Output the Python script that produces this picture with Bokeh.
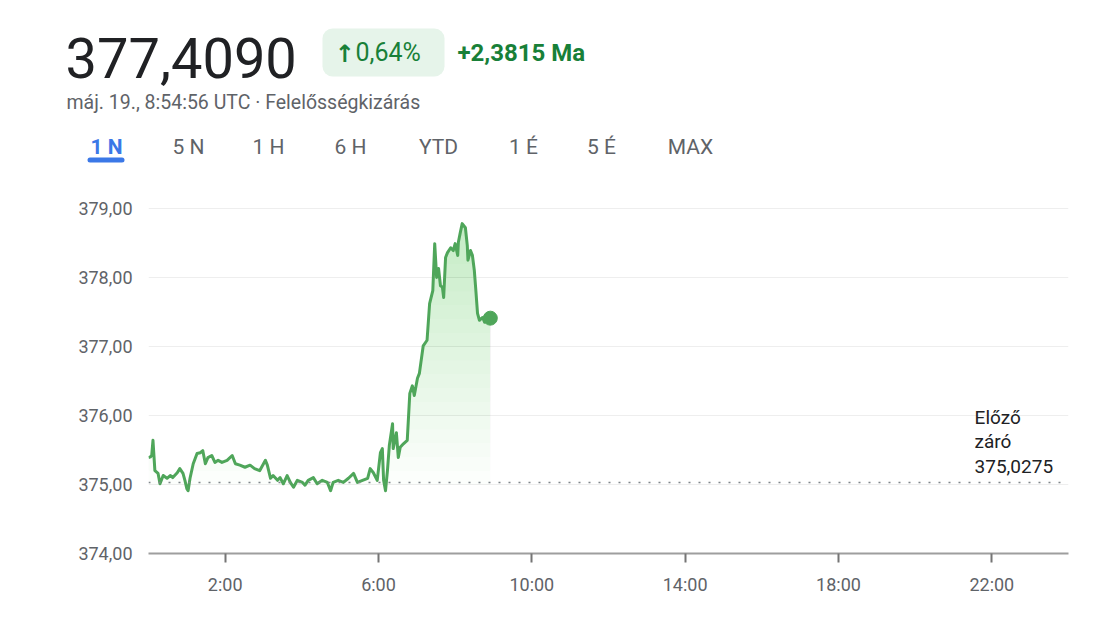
import numpy as np
from bokeh.plotting import figure
from bokeh.models import Range1d, FixedTicker, Span, BoxAnnotation
from bokeh.core.properties import value
from bokeh.embed import file_html
from bokeh.resources import INLINE

# ---------------- data ----------------
last_price_label = "377,4090"
change_arrow = "\u2191"
change_pct_label = "0,64%"
change_abs_label = "+2,3815 Ma"
timestamp_label = "máj. 19., 8:54:56 UTC · Felelősségkizárás"
range_tabs = ["1 N", "5 N", "1 H", "6 H", "YTD", "1 É", "5 É", "MAX"]

prev_close = 375.0275
prev_close_label = "Előző\nzáró\n375,0275"

# minutes since midnight UTC
minutes = [0, 3, 5, 7, 10, 15, 18, 23, 29, 34, 38, 45, 49, 54, 57, 60, 62, 65, 70, 76,
           81, 85, 89, 93, 99, 104, 109, 115, 123, 131, 136, 143, 151, 159, 166, 174, 180,
           183, 186, 191, 195, 202, 206, 211, 217, 222, 227, 233, 241, 245, 250, 258, 264,
           272, 280, 285, 289, 297, 305, 313, 321, 327, 335, 343, 347, 352, 358, 363, 366,
           368, 371, 374, 377, 382, 383, 388, 391, 394, 399, 405, 409, 413, 416, 421, 424,
           430, 436, 440, 445, 448, 451, 454, 457, 460, 462, 465, 468, 473, 477, 480, 484,
           485, 488, 491, 496, 499, 500, 504, 507, 510, 512, 515, 518, 523, 526, 531, 535]
prices = [375.39, 375.40, 375.42, 375.64, 375.20, 375.16, 375.01, 375.13, 375.09, 375.13,
          375.10, 375.17, 375.23, 375.16, 375.06, 374.94, 374.91, 375.09, 375.30, 375.45,
          375.46, 375.49, 375.30, 375.39, 375.42, 375.32, 375.35, 375.32, 375.35, 375.42,
          375.30, 375.28, 375.25, 375.28, 375.23, 375.20, 375.30, 375.35, 375.28, 375.09,
          375.13, 375.06, 375.10, 375.01, 375.13, 375.03, 374.96, 375.06, 375.03, 374.99,
          375.06, 375.10, 375.01, 375.06, 375.03, 374.91, 375.03, 375.06, 375.03, 375.09,
          375.16, 375.03, 375.06, 375.09, 375.23, 375.17, 375.06, 375.46, 375.52, 375.06,
          374.91, 375.20, 375.57, 375.88, 375.52, 375.75, 375.39, 375.54, 375.59, 375.64,
          376.32, 376.43, 376.29, 376.54, 376.61, 377.01, 377.09, 377.62, 377.81, 378.49,
          378.00, 378.13, 377.88, 377.86, 377.71, 378.29, 378.36, 378.43, 378.39, 378.49,
          378.32, 378.51, 378.65, 378.78, 378.72, 378.46, 378.25, 378.39, 378.32, 378.10,
          377.86, 377.48, 377.38, 377.42, 377.35, 377.38, 377.41]

x_ticks = [2, 6, 10, 14, 18, 22]
x_tick_labels = ["2:00", "6:00", "10:00", "14:00", "18:00", "22:00"]
y_ticks = [374, 375, 376, 377, 378, 379]
y_tick_labels = ["374,00", "375,00", "376,00", "377,00", "378,00", "379,00"]

# ---------------- style ----------------
FONT = "Roboto"
GREEN = "#4fa65a"
TEXT_GREEN = "#188038"
GRAY = "#5f6368"
BLUE = "#3b78e7"
W = 1102
HDR_H = 178

# ---------------- header figure (pixel-like coordinates) ----------------
hdr = figure(width=W, height=HDR_H, x_range=Range1d(0, W), y_range=Range1d(HDR_H, 0),
             x_axis_type=None, y_axis_type=None, toolbar_location=None,
             output_backend="svg", min_border=0)
hdr.outline_line_color = None
hdr.xgrid.visible = False
hdr.ygrid.visible = False

hdr.text(x=[65], y=[57], text=[last_price_label], text_font=value(FONT),
         text_font_size=value("56px"), text_color="#202124", text_baseline="middle")
hdr.text(x=[66], y=[102], text=[timestamp_label], text_font=value(FONT),
         text_font_size=value("19.5px"), text_color=GRAY, text_baseline="middle")
hdr.add_layout(BoxAnnotation(left=322, right=444, top=28, bottom=76, level="underlay",
                             fill_color="#e6f4ea", fill_alpha=1, line_color=None,
                             border_radius=10))
hdr.text(x=[334], y=[53], text=[change_arrow], text_font=value("DejaVu Sans"),
         text_font_size=value("24px"), text_color=TEXT_GREEN, text_baseline="middle",
         text_font_style="bold")
hdr.text(x=[355], y=[52], text=[change_pct_label], text_font=value(FONT),
         text_font_size=value("25px"), text_color=TEXT_GREEN, text_baseline="middle")
hdr.text(x=[457], y=[52], text=[change_abs_label], text_font=value(FONT),
         text_font_size=value("24px"), text_color=TEXT_GREEN, text_baseline="middle",
         text_font_style="bold")

tab_x = [106, 188, 268, 350, 438, 523, 601, 690]
for i, (tx, lab) in enumerate(zip(tab_x, range_tabs)):
    hdr.text(x=[tx], y=[146], text=[lab], text_font=value(FONT), text_font_size=value("21px"),
             text_color=BLUE if i == 0 else GRAY, text_baseline="middle",
             text_align="center", text_font_style="bold" if i == 0 else "normal")
hdr.add_layout(BoxAnnotation(left=87, right=124, top=157, bottom=162,
                             fill_color=BLUE, fill_alpha=1, line_color=None,
                             border_radius=3))

# ---------------- chart figure ----------------
t = np.array(minutes) / 60.0
p_arr = np.array(prices)

p = figure(width=W, height=430, x_range=Range1d(0, 24), y_range=Range1d(374, 379.26),
           toolbar_location=None, output_backend="svg",
           min_border_left=148, min_border_right=34, min_border_top=12, min_border_bottom=55)
p.outline_line_color = None
p.background_fill_color = "white"

levels = np.arange(375.0, 379.0, 0.2)
for lvl in levels:
    p.varea(x=t, y1=np.full_like(t, lvl), y2=np.maximum(p_arr, lvl),
            fill_color=GREEN, fill_alpha=0.016)

p.add_layout(Span(location=prev_close, dimension="width", line_color="#80868b",
                  line_width=1.5, line_dash="2 8"))

p.line(t, p_arr, line_color=GREEN, line_width=3, line_join="round")
p.scatter(x=[t[-1]], y=[p_arr[-1]], size=14, color=GREEN)

p.text(x=[21.55], y=[prev_close], text=[prev_close_label], text_font=value(FONT),
       text_font_size=value("19px"), text_color="#202124", text_baseline="bottom",
       text_line_height=1.05, y_offset=-5)

p.xgrid.visible = False
p.ygrid.grid_line_color = "#eeeeee"
p.ygrid.grid_line_width = 1
p.ygrid.ticker = FixedTicker(ticks=y_ticks)

xa = p.xaxis[0]
xa.ticker = FixedTicker(ticks=x_ticks)
xa.major_label_overrides = dict(zip(x_ticks, x_tick_labels))
xa.axis_line_color = "#9e9e9e"
xa.axis_line_width = 2
xa.major_tick_line_color = "#757575"
xa.major_tick_line_width = 2
xa.major_tick_out = 9
xa.major_tick_in = 0
xa.minor_tick_line_color = None
xa.major_label_text_font = FONT
xa.major_label_text_font_size = "18px"
xa.major_label_text_color = GRAY
xa.major_label_standoff = 11

ya = p.yaxis[0]
ya.ticker = FixedTicker(ticks=y_ticks)
ya.major_label_overrides = dict(zip(y_ticks, y_tick_labels))
ya.axis_line_color = None
ya.major_tick_line_color = None
ya.minor_tick_line_color = None
ya.major_label_text_font = FONT
ya.major_label_text_font_size = "18px"
ya.major_label_text_color = GRAY
ya.major_label_standoff = 10

open("out.html", "w").write(file_html([hdr, p], INLINE))
